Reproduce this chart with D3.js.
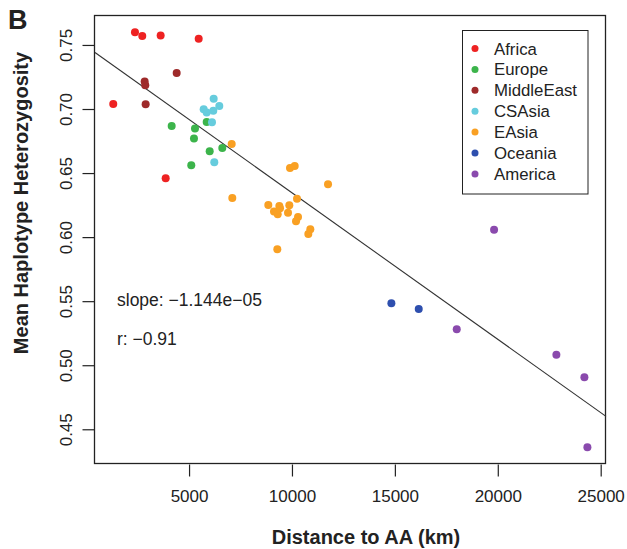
<!DOCTYPE html>
<html>
<head>
<meta charset="utf-8">
<script src="https://d3js.org/d3.v7.min.js"></script>
<style>
  body { margin: 0; background: white; }
  text { font-family: 'Liberation Sans', Arial, sans-serif; fill: #222; }
</style>
</head>
<body>
<svg id="chart"></svg>
<script>
// regions in legend order, with their colours
var regions = ["Africa", "Europe", "MiddleEast", "CSAsia", "EAsia", "Oceania", "America"];
var regionColors = ["#ee2222", "#3cb44b", "#9e2a2a", "#66ccdd", "#f9a023", "#2e4fae", "#8a4aad"];

// distance to AA (km) and mean haplotype heterozygosity, per region
var africaX = [2372, 2727, 3620, 5468, 1317, 3864];
var africaY = [0.7599, 0.7570, 0.7573, 0.7549, 0.7039, 0.6459];
var europeX = [4155, 5288, 5239, 5856, 6002, 6615, 5108];
var europeY = [0.6868, 0.6847, 0.6769, 0.6899, 0.6670, 0.6696, 0.6561];
var middleEastX = [2843, 2873, 4398, 2891];
var middleEastY = [0.7214, 0.7185, 0.7281, 0.7037];
var csAsiaX = [6196, 6469, 5710, 5856, 6177, 6114, 6226];
var csAsiaY = [0.7081, 0.7024, 0.6998, 0.6972, 0.6987, 0.6897, 0.6584];
var eAsiaX = [7071, 9905, 10133, 11752, 7101, 10245, 8851, 9386, 9871, 9127, 9307, 9808, 10294, 10197, 10892, 10795, 9288, 9419];
var eAsiaY = [0.6727, 0.6540, 0.6555, 0.6413, 0.6306, 0.6300, 0.6251, 0.6243, 0.6249, 0.6199, 0.6178, 0.6191, 0.6157, 0.6124, 0.6061, 0.6025, 0.5905, 0.6225];
var oceaniaX = [14830, 16159];
var oceaniaY = [0.5484, 0.5439];
var americaX = [19820, 18006, 22847, 24208, 24354];
var americaY = [0.6058, 0.5281, 0.5082, 0.4906, 0.4359];

var xTicks = [5000, 10000, 15000, 20000, 25000];
var yTicks = [0.45, 0.50, 0.55, 0.60, 0.65, 0.70, 0.75];

// fitted line
var intercept = 0.7490;
var slope = -1.144e-05;

var width = 627, height = 549;
var margin = { left: 95, top: 16, right: 21, bottom: 85 };

var svg = d3.select("#chart").attr("width", width).attr("height", height);

var x = d3.scaleLinear().domain([430, 25258]).range([margin.left, width - margin.right]);
var y = d3.scaleLinear().domain([0.4229, 0.7726]).range([height - margin.bottom, margin.top]);

var allX = [africaX, europeX, middleEastX, csAsiaX, eAsiaX, oceaniaX, americaX];
var allY = [africaY, europeY, middleEastY, csAsiaY, eAsiaY, oceaniaY, americaY];
var points = [];
regions.forEach((r, i) => {
  allX[i].forEach((v, j) => points.push({ region: r, color: regionColors[i], x: v, y: allY[i][j] }));
});

// axes
var xAxis = svg.append("g")
  .attr("transform", `translate(0,${height - margin.bottom + 0.5})`)
  .call(d3.axisBottom(x).tickValues(xTicks).tickFormat(d3.format("d")).tickSize(12).tickPadding(13));
var yAxis = svg.append("g")
  .attr("transform", `translate(${margin.left - 0.5},0)`)
  .call(d3.axisLeft(y).tickValues(yTicks).tickFormat(d3.format(".2f")).tickSize(12));

[xAxis, yAxis].forEach(g => {
  g.select(".domain").remove();
  g.selectAll("line").attr("stroke", "#222").attr("stroke-width", 1.2);
  g.selectAll("text").style("font-size", "17px").attr("fill", "#333");
});
yAxis.selectAll(".tick text")
  .attr("x", 0)
  .attr("text-anchor", "middle")
  .attr("transform", "translate(-28,0) rotate(-90)")
  .attr("dy", "0.35em");

// plot box
svg.append("rect")
  .attr("x", margin.left - 0.5).attr("y", margin.top - 0.5)
  .attr("width", width - margin.left - margin.right)
  .attr("height", height - margin.top - margin.bottom)
  .attr("fill", "none").attr("stroke", "#222").attr("stroke-width", 1.3);

// regression line
svg.append("line")
  .attr("x1", x(430)).attr("y1", y(intercept + slope * 430))
  .attr("x2", x(25258)).attr("y2", y(intercept + slope * 25258))
  .attr("stroke", "#333").attr("stroke-width", 1.1);

// points
svg.append("g").selectAll("circle")
  .data(points)
  .enter().append("circle")
  .attr("cx", d => x(d.x))
  .attr("cy", d => y(d.y))
  .attr("r", 4)
  .attr("fill", d => d.color);

// legend
var legend = svg.append("g");
legend.append("rect")
  .attr("x", 462.5).attr("y", 30.5).attr("width", 125.5).attr("height", 163.5)
  .attr("fill", "white").attr("stroke", "#222").attr("stroke-width", 1);
regions.forEach((r, i) => {
  var ly = 48.5 + i * 20.9;
  legend.append("circle").attr("cx", 475).attr("cy", ly).attr("r", 3.5).attr("fill", regionColors[i]);
  legend.append("text").attr("x", 494).attr("y", ly).attr("dy", "0.36em")
    .style("font-size", "16.8px").attr("fill", "#333").text(r);
});

// annotations
svg.append("text").attr("x", 117).attr("y", 306).style("font-size", "17.5px").attr("fill", "#333")
  .text("slope: \u22121.144e\u221205");
svg.append("text").attr("x", 117).attr("y", 345).style("font-size", "17.5px").attr("fill", "#333")
  .text("r: \u22120.91");

// axis titles
svg.append("text")
  .attr("x", 366).attr("y", 544)
  .attr("text-anchor", "middle")
  .style("font-size", "20px").style("font-weight", "bold")
  .text("Distance to AA (km)");
svg.append("text")
  .attr("transform", "translate(28,203) rotate(-90)")
  .attr("text-anchor", "middle")
  .style("font-size", "20px").style("font-weight", "bold")
  .text("Mean Haplotype Heterozygosity");

svg.append("text").attr("x", 8).attr("y", 29)
  .style("font-size", "27px").style("font-weight", "bold")
  .text("B");
</script>
</body>
</html>
